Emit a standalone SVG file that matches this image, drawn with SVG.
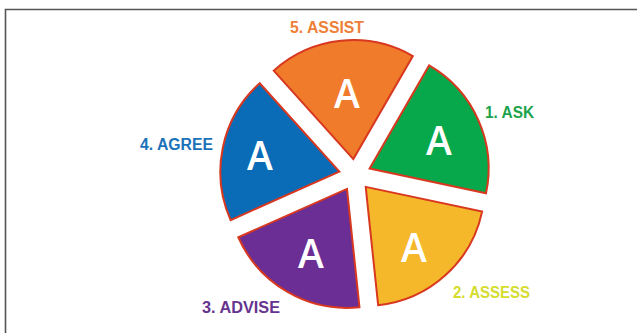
<svg xmlns="http://www.w3.org/2000/svg" width="637" height="333" viewBox="0 0 637 333">
  <style>
    .wedge { stroke: #D8381F; stroke-width: 2; stroke-linejoin: miter; }
    .letter { font-family: "Open Sans", "Liberation Sans", sans-serif; font-weight: 600; font-size: 39px; fill: #FFFFFF; text-anchor: middle; }
    .label { font-family: "Liberation Sans", Arial, sans-serif; font-weight: 700; font-size: 16px; }
  </style>
  <rect width="637" height="333" fill="#FFFFFF"/>
  <!-- frame: top and left edge -->
  <path d="M5.5,333 V9.5 H637" fill="none" stroke="#555555" stroke-width="1.6"/>

  <!-- five exploded sectors, r=119, 72 degrees each -->
  <g id="assist">
    <path class="wedge" fill="#F07B2B" d="M353.33,159.09 L273.70,70.66 A119,119 0 0 1 412.83,56.03 Z"/>
    <text class="letter" x="347" y="108">A</text>
    <text class="label" x="290" y="32.7" fill="#EE7F38" textLength="74" lengthAdjust="spacingAndGlyphs">5. ASSIST</text>
  </g>
  <g id="ask">
    <path class="wedge" fill="#07A84B" d="M369.62,168.49 L429.12,65.43 A119,119 0 0 1 486.02,193.23 Z"/>
    <text class="letter" x="439" y="155">A</text>
    <text class="label" x="485" y="118.3" fill="#1BA34C" textLength="49" lengthAdjust="spacingAndGlyphs">1. ASK</text>
  </g>
  <g id="assess">
    <path class="wedge" fill="#F5B82A" d="M365.71,186.89 L482.11,211.63 A119,119 0 0 1 378.15,305.24 Z"/>
    <text class="letter" x="414" y="262">A</text>
    <text class="label" x="453" y="298" fill="#D5DC2C" textLength="77" lengthAdjust="spacingAndGlyphs">2. ASSESS</text>
  </g>
  <g id="advise">
    <path class="wedge" fill="#6A2E95" d="M347,188.86 L359.44,307.21 A119,119 0 0 1 238.29,237.26 Z"/>
    <text class="letter" x="311" y="268">A</text>
    <text class="label" x="202" y="313.3" fill="#66348F" textLength="78" lengthAdjust="spacingAndGlyphs">3. ADVISE</text>
  </g>
  <g id="agree">
    <path class="wedge" fill="#0A6CB7" d="M339.35,171.67 L230.64,220.07 A119,119 0 0 1 259.72,83.24 Z"/>
    <text class="letter" x="260" y="170">A</text>
    <text class="label" x="140" y="150" fill="#1B72B9" textLength="73" lengthAdjust="spacingAndGlyphs">4. AGREE</text>
  </g>
  <g id="connectors"/>
</svg>
